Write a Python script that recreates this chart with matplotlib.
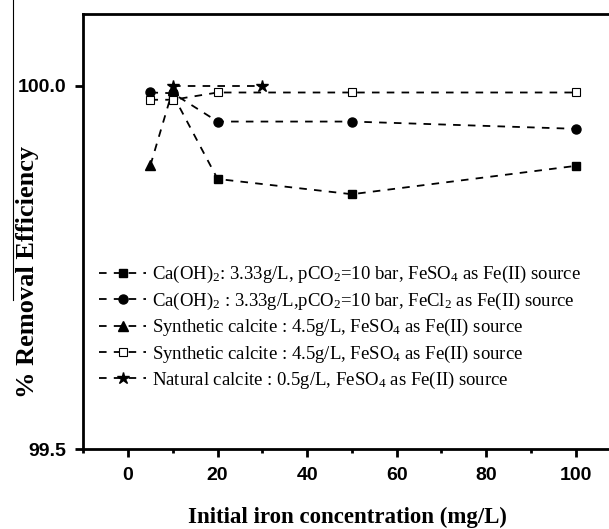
import numpy as np
import matplotlib
matplotlib.use("Agg")
import matplotlib.pyplot as plt
from matplotlib.ticker import MultipleLocator

plt.rcParams['mathtext.fontset'] = 'custom'
plt.rcParams['mathtext.rm'] = 'Liberation Serif'
plt.rcParams['mathtext.it'] = 'Liberation Serif:italic'
plt.rcParams['mathtext.bf'] = 'Liberation Serif:bold'

# data
X1 = [10, 20, 50, 100]
Y1 = [99.988, 99.872, 99.851, 99.890]
X2 = [5, 10, 20, 50, 100]
Y2 = [99.991, 99.990, 99.951, 99.951, 99.941]
X3 = [5, 10]
Y3 = [99.891, 99.995]
X4 = [5, 10, 20, 50, 100]
Y4 = [99.981, 99.981, 99.991, 99.991, 99.991]
X5 = [10, 30]
Y5 = [100.0, 100.0]

LABELS = [r'Ca(OH)$_2$: 3.33g/L, pCO$_2$=10 bar, FeSO$_4$ as Fe(II) source',
          r'Ca(OH)$_2$ : 3.33g/L,pCO$_2$=10 bar, FeCl$_2$ as Fe(II) source',
          r'Synthetic calcite : 4.5g/L, FeSO$_4$ as Fe(II) source',
          r'Synthetic calcite : 4.5g/L, FeSO$_4$ as Fe(II) source',
          r'Natural calcite : 0.5g/L, FeSO$_4$ as Fe(II) source']

fig = plt.figure(figsize=[6.09, 5.29], dpi=100)
ax = fig.add_axes([0.1368, 0.1507, 0.8673, 0.8228])

dash = (0, (4.2, 4.0))
lw = 1.3
ax.plot(X1, Y1, ls=dash, lw=lw, color='black', marker='s', ms=6, mfc='black', label=LABELS[0])
ax.plot(X2, Y2, ls=dash, lw=lw, color='black', marker='o', ms=6.5, mfc='black', label=LABELS[1])
ax.plot(X3, Y3, ls=dash, lw=lw, color='black', marker='^', ms=7.5, mfc='black', label=LABELS[2])
ax.plot(X4, Y4, ls=dash, lw=lw, color='black', marker='s', ms=6, mfc='white', mew=0.8, label=LABELS[3])
ax.plot(X5, Y5, ls=dash, lw=lw, color='black', marker='*', ms=9, mfc='black', label=LABELS[4])

ax.set_xlim(-10, 108)
ax.set_ylim(99.5, 100.099)
ax.xaxis.set_minor_locator(MultipleLocator(10))
ax.set_xticks([0, 20, 40, 60, 80, 100])
ax.set_yticks([99.5, 100.0])
ax.set_yticklabels(['99.5', '100.0'])

for s in ['left', 'bottom', 'top']:
    ax.spines[s].set_linewidth(2.0)
ax.spines['right'].set_visible(False)
ax.tick_params(which='major', direction='out', length=6, width=2.0, pad=6)
ax.tick_params(which='minor', direction='out', length=3, width=2.0)
ax.tick_params(axis='x', pad=7)
for t in ax.get_xticklabels() + ax.get_yticklabels():
    t.set_fontfamily('Liberation Sans')
    t.set_fontweight('bold')
    t.set_fontsize(14)

ax.set_xlabel('Initial iron concentration (mg/L)', fontfamily='Liberation Serif',
              fontweight='bold', fontsize=16.5, labelpad=16)
fig.text(28 / 609, 1 - 272 / 529, '% Removal Efficiency', rotation=90,
         ha='center', va='center', fontfamily='Liberation Serif',
         fontweight='bold', fontsize=19)

leg = ax.legend(loc='upper left', bbox_to_anchor=(90 / 609, 1 - 255 / 529),
                bbox_transform=fig.transFigure, frameon=False, borderpad=0,
                handlelength=2.5, handletextpad=0.3, labelspacing=0.28,
                prop={'family': 'Liberation Serif', 'size': 13.5})

# thin border line at the left edge of the crop
fig.add_artist(plt.Line2D([13 / 609, 13 / 609], [1, 1 - 300 / 529],
                          transform=fig.transFigure, color='black', lw=0.8))

fig.savefig('out.png', dpi=100)
